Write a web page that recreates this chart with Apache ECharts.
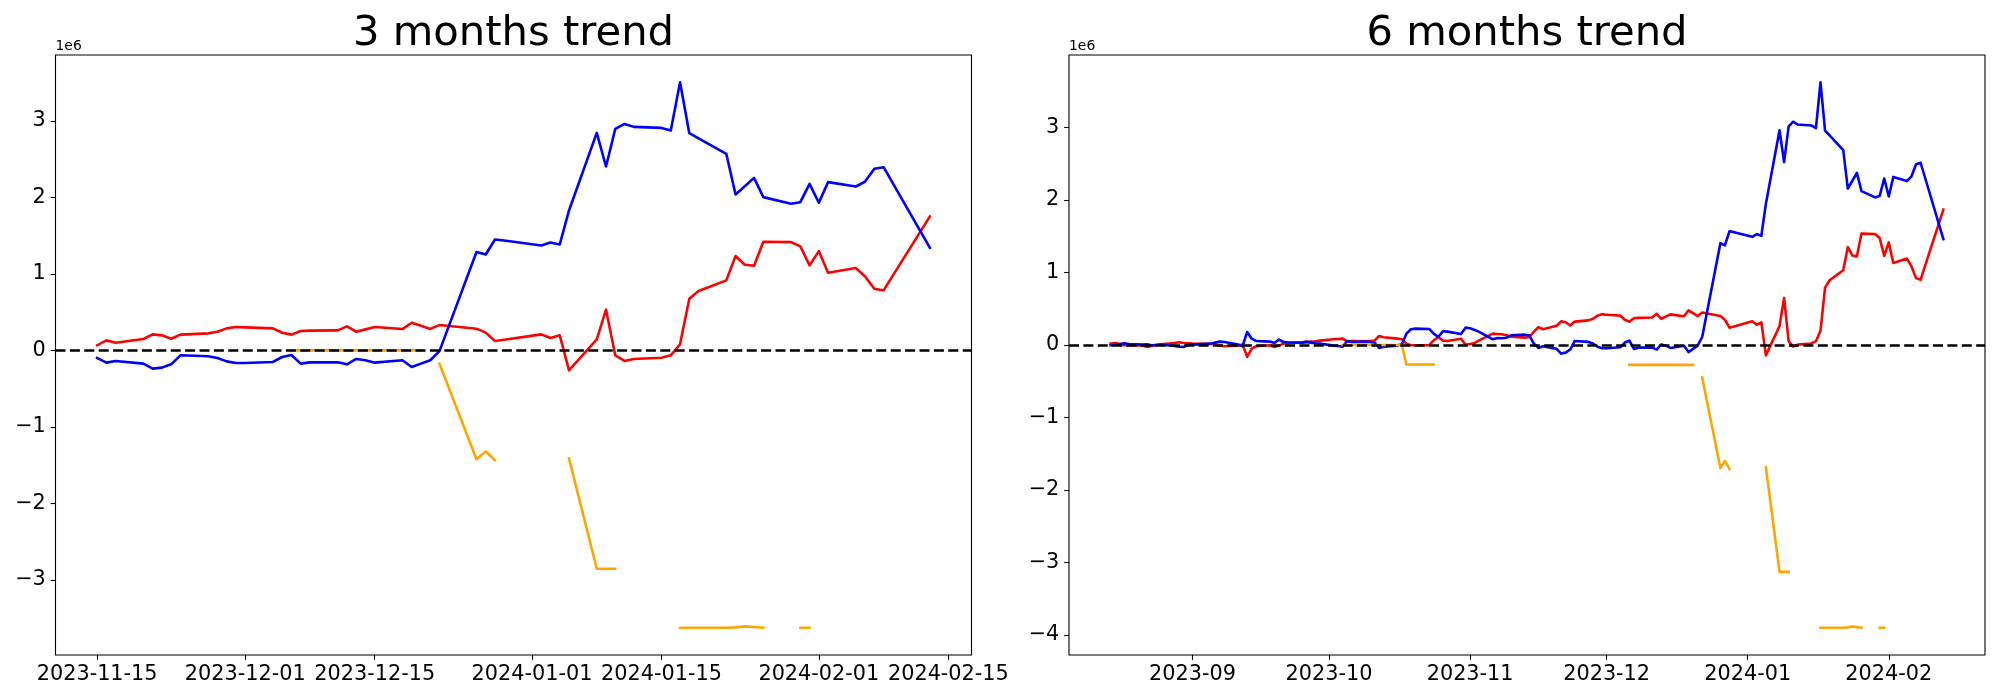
<!DOCTYPE html>
<html><head><meta charset="utf-8">
<script src="https://cdn.jsdelivr.net/npm/echarts@6/dist/echarts.min.js"></script>
<style>html,body{margin:0;padding:0;background:#fff}#c{width:2000px;height:700px}</style>
</head><body><div id="c"></div>
<script>
// ---------- DATA (values in units of 1e6) ----------
const titles = ["3 months trend", "6 months trend"];
const dates3 = ["2023-11-15","2023-11-16","2023-11-17","2023-11-20","2023-11-21","2023-11-22","2023-11-23","2023-11-24",
"2023-11-27","2023-11-28","2023-11-29","2023-11-30","2023-12-01",
"2023-12-04","2023-12-05","2023-12-06","2023-12-07","2023-12-08",
"2023-12-11","2023-12-12","2023-12-13","2023-12-14","2023-12-15",
"2023-12-18","2023-12-19","2023-12-20","2023-12-21","2023-12-22",
"2023-12-26","2023-12-27","2023-12-28","2023-12-29",
"2024-01-02","2024-01-03","2024-01-04","2024-01-05",
"2024-01-08","2024-01-09","2024-01-10","2024-01-11","2024-01-12",
"2024-01-15","2024-01-16","2024-01-17","2024-01-18","2024-01-19",
"2024-01-22","2024-01-23","2024-01-24","2024-01-25","2024-01-26",
"2024-01-29","2024-01-30","2024-01-31","2024-02-01","2024-02-02",
"2024-02-05","2024-02-06","2024-02-07","2024-02-08",
"2024-02-13"];
const blue3 = [-0.100,-0.161,-0.139,-0.174,-0.239,-0.226,-0.183,-0.065,
-0.078,-0.100,-0.144,-0.165,-0.165,
-0.152,-0.087,-0.061,-0.174,-0.157,
-0.157,-0.183,-0.113,-0.130,-0.161,
-0.130,-0.218,-0.174,-0.130,-0.010,
1.284,1.253,1.449,1.436,
1.371,1.410,1.384,1.828,
2.842,2.402,2.894,2.959,2.920,
2.907,2.872,3.503,2.837,2.770,
2.567,2.037,2.145,2.254,2.002,
1.915,1.936,2.176,1.928,2.198,
2.141,2.206,2.372,2.393,
1.340];
const red3 = [0.065,0.130,0.100,0.148,0.209,0.196,0.152,0.205,
0.222,0.244,0.287,0.305,0.300,
0.287,0.230,0.205,0.252,0.257,
0.261,0.313,0.244,0.274,0.305,
0.278,0.361,0.322,0.280,0.330,
0.283,0.231,0.122,0.139,
0.209,0.161,0.196,-0.261,
0.144,0.531,-0.065,-0.139,-0.113,
-0.096,-0.065,0.078,0.674,0.775,
0.914,1.232,1.118,1.105,1.419,
1.414,1.358,1.110,1.297,1.014,
1.075,0.966,0.805,0.783,
1.749];
const orange3 = [null,null,null,null,null,null,null,null,
null,null,null,null,null,
null,null,0,0,0,
0,0,0,0,0,
0,0,0,null,-0.174,
-1.423,-1.323,-1.436,null,
null,null,null,-1.414,
-2.855,-2.855,-2.855,null,null,
null,null,-3.625,-3.625,-3.625,
-3.625,-3.620,-3.607,-3.615,-3.625,
null,-3.625,-3.625,null,null,
null,null,null,null,
null];

const dates6Early = ["2023-08-14","2023-08-15","2023-08-16","2023-08-17","2023-08-18",
"2023-08-21","2023-08-22","2023-08-23","2023-08-24","2023-08-25",
"2023-08-28","2023-08-29","2023-08-30","2023-08-31","2023-09-01",
"2023-09-05","2023-09-06","2023-09-07","2023-09-08",
"2023-09-11","2023-09-12","2023-09-13","2023-09-14","2023-09-15",
"2023-09-18","2023-09-19","2023-09-20","2023-09-21","2023-09-22",
"2023-09-25","2023-09-26","2023-09-27","2023-09-28","2023-09-29",
"2023-10-02","2023-10-03","2023-10-04","2023-10-05","2023-10-06",
"2023-10-09","2023-10-10","2023-10-11","2023-10-12","2023-10-13",
"2023-10-16","2023-10-17","2023-10-18","2023-10-19","2023-10-20",
"2023-10-23","2023-10-24","2023-10-25","2023-10-26","2023-10-27",
"2023-10-30","2023-10-31","2023-11-01","2023-11-02","2023-11-03",
"2023-11-06","2023-11-07","2023-11-08","2023-11-09","2023-11-10",
"2023-11-13","2023-11-14"];
const red6Early = [0.018,0.028,0.014,-0.005,0.000,
-0.009,-0.028,-0.014,0.000,0.009,
0.028,0.037,0.028,0.023,0.018,
0.014,0.005,-0.009,-0.018,
-0.009,0.005,-0.165,-0.050,-0.018,
-0.005,-0.028,-0.009,0.018,0.028,
0.032,0.037,0.046,0.050,0.060,
0.078,0.083,0.087,0.046,0.055,
0.050,0.055,0.060,0.124,0.106,
0.087,0.078,0.018,-0.005,-0.005,
-0.005,0.064,0.110,0.060,0.055,
0.085,0.005,0.014,0.028,0.064,
0.156,0.152,0.147,0.133,0.115,
0.101,0.110];
const blue6Early = [-0.005,0.000,0.014,0.023,0.014,
0.005,0.009,-0.005,0.000,0.005,
-0.014,-0.023,-0.028,0.000,0.005,
0.018,0.032,0.046,0.041,
0.005,-0.018,0.179,0.087,0.055,
0.046,0.028,0.074,0.041,0.037,
0.032,0.046,0.032,0.023,0.018,
-0.009,-0.014,-0.023,0.055,0.041,
0.046,0.041,0.032,-0.041,-0.023,
-0.009,0.009,0.156,0.216,0.225,
0.221,0.156,0.110,0.188,0.184,
0.150,0.239,0.230,0.207,0.180,
0.078,0.096,0.092,0.100,0.133,
0.142,0.133];
const orange6Early = [null,null,null,null,null,
null,null,null,null,null,
null,null,null,null,null,
null,null,null,null,
null,null,null,null,null,
null,null,null,null,null,
null,null,null,null,null,
null,null,0,0,0,
0,0,0,0,0,
0,0,-0.270,-0.270,-0.270,
-0.270,-0.270,null,null,null,
null,null,null,null,null,
null,null,null,null,null,
null,null];
const red6Late = [0.182,0.247,0.217,0.265,0.326,0.313,0.269,0.322,
0.339,0.361,0.404,0.422,0.417,
0.404,0.347,0.322,0.369,0.374,
0.378,0.430,0.361,0.391,0.422,
0.395,0.478,0.439,0.397,0.447,
0.400,0.348,0.239,0.256,
0.326,0.278,0.313,-0.144,
0.261,0.648,0.052,-0.022,0.004,
0.021,0.052,0.195,0.791,0.892,
1.031,1.349,1.235,1.222,1.536,
1.531,1.475,1.227,1.414,1.131,
1.192,1.083,0.922,0.900,
1.866];
const blue6Late = [0.020,-0.041,-0.019,-0.054,-0.119,-0.106,-0.063,0.055,
0.042,0.020,-0.024,-0.045,-0.045,
-0.032,0.033,0.059,-0.054,-0.037,
-0.037,-0.063,0.007,-0.010,-0.041,
-0.010,-0.098,-0.054,-0.010,0.110,
1.404,1.373,1.569,1.556,
1.491,1.530,1.504,1.948,
2.962,2.522,3.014,3.079,3.040,
3.027,2.992,3.623,2.957,2.890,
2.687,2.157,2.265,2.374,2.122,
2.035,2.056,2.296,2.048,2.318,
2.261,2.326,2.492,2.513,
1.460];
const orange6Late = [null,null,null,null,null,null,null,null,
null,null,null,null,null,
null,null,-0.275,-0.275,-0.275,
-0.275,-0.275,-0.275,-0.275,-0.275,
-0.275,-0.275,-0.275,null,-0.449,
-1.698,-1.598,-1.711,null,
null,null,null,-1.689,
-3.130,-3.130,-3.130,null,null,
null,null,-3.900,-3.900,-3.900,
-3.900,-3.895,-3.882,-3.890,-3.900,
null,-3.900,-3.900,null,null,
null,null,null,null,
null];
const dates6 = dates6Early.concat(dates3);
const red6 = red6Early.concat(red6Late);
const blue6 = blue6Early.concat(blue6Late);
const orange6 = orange6Early.concat(orange6Late);

const xTicks3 = ["2023-11-15","2023-12-01","2023-12-15","2024-01-01","2024-01-15","2024-02-01","2024-02-15"];
const xTicks6 = ["2023-09-01","2023-10-01","2023-11-01","2023-12-01","2024-01-01","2024-02-01"];
const yTicks3 = [-3,-2,-1,0,1,2,3];
const yTicks6 = [-4,-3,-2,-1,0,1,2,3];
const offsetLabel = "1e6";

// ---------- BUILD ----------
const FONT = '"DejaVu Sans", sans-serif';
const LW = 2.6;
function ts(s){const p=s.split('-').map(Number);return new Date(p[0],p[1]-1,p[2]||1).getTime();}
function pad(a,b){const r=b-a;return [a-0.05*r,b+0.05*r];}
function pairs(d,v){return d.map((s,i)=>[ts(s), v[i]==null?'-':v[i]]);}
function two(n){return (n<10?'0':'')+n;}

const panels = [
  {dates:dates3, blue:blue3, red:red3, orange:orange3, xt:xTicks3, yt:yTicks3, left:55.5, width:916, fmt:'day'},
  {dates:dates6, blue:blue6, red:red6, orange:orange6, xt:xTicks6, yt:yTicks6, left:1069, width:916, fmt:'month'}
];
const TOP=55, HEIGHT=600;

const grids=[], xAxes=[], yAxes=[], series=[], graphics=[];
panels.forEach((p,i)=>{
  grids.push({left:p.left, top:TOP, width:p.width, height:HEIGHT, show:true, borderColor:'#000', borderWidth:1.1, backgroundColor:'transparent', containLabel:false});
  const tsx = p.dates.map(ts);
  const xr = pad(Math.min(...tsx), Math.max(...tsx));
  const all = p.blue.concat(p.red, p.orange).filter(v=>v!=null);
  const yr = pad(Math.min(...all), Math.max(...all));
  const xt = p.xt.map(ts);
  xAxes.push({type:'value', gridIndex:i, min:xr[0], max:xr[1], scale:true,
    axisLine:{show:false, onZero:false}, splitLine:{show:false},
    axisTick:{show:true, customValues:xt, length:4.86, inside:false, lineStyle:{color:'#000', width:1.1}},
    axisLabel:{show:true, customValues:xt, margin:9, color:'#000', fontFamily:FONT, fontSize:20.8, hideOverlap:false, showMinLabel:true, showMaxLabel:true,
      formatter:(v)=>{const d=new Date(Math.round(v)); const s=d.getFullYear()+'-'+two(d.getMonth()+1); return p.fmt==='day'? s+'-'+two(d.getDate()) : s;}}
  });
  yAxes.push({type:'value', gridIndex:i, min:yr[0], max:yr[1],
    axisLine:{show:false}, splitLine:{show:false},
    axisTick:{show:true, customValues:p.yt, length:4.86, inside:false, lineStyle:{color:'#000', width:1.1}},
    axisLabel:{show:true, customValues:p.yt, margin:9.7, color:'#000', fontFamily:FONT, fontSize:20.8, padding:[3,0,0,0],
      formatter:(v)=> v<0 ? '\u2212'+Math.abs(v) : String(v)}
  });
  const base = {type:'line', xAxisIndex:i, yAxisIndex:i, showSymbol:false, symbol:'none', connectNulls:false, animation:false, silent:true, clip:true};
  series.push(Object.assign({}, base, {name:'red'+i, z:2, data:pairs(p.dates,p.red), lineStyle:{color:'#ff0000', width:LW, join:'round', cap:'square'}}));
  series.push(Object.assign({}, base, {name:'blue'+i, z:3, data:pairs(p.dates,p.blue), lineStyle:{color:'#0000ff', width:LW, join:'round', cap:'square'}}));
  series.push(Object.assign({}, base, {name:'orange'+i, z:4, data:pairs(p.dates,p.orange), lineStyle:{color:'#ffa500', width:LW, join:'round', cap:'square'}}));
  series.push(Object.assign({}, base, {name:'zero'+i, z:10, data:[],
    markLine:{silent:true, symbol:['none','none'], animation:false, label:{show:false},
      lineStyle:{color:'#000', width:LW, type:[10,4.4]}, emphasis:{disabled:true}, data:[{yAxis:0}]}}));
  graphics.push({type:'text', x:p.left + p.width/2, y:34.3, silent:true,
    style:{text:titles[i], fontFamily:FONT, fontSize:41.7, fill:'#000', align:'center', verticalAlign:'middle', textAlign:'center', textVerticalAlign:'middle'}});
  graphics.push({type:'text', x:p.left, y:45.9, silent:true,
    style:{text:offsetLabel, fontFamily:FONT, fontSize:13.9, fill:'#000', align:'left', verticalAlign:'middle', textAlign:'left', textVerticalAlign:'middle'}});
});

const chart = echarts.init(document.getElementById('c'), null, {renderer:'canvas', width:2000, height:700});
chart.setOption({
  backgroundColor:'#ffffff',
  animation:false,
  grid:grids, xAxis:xAxes, yAxis:yAxes, series:series, graphic:graphics
});
</script>
</body></html>
